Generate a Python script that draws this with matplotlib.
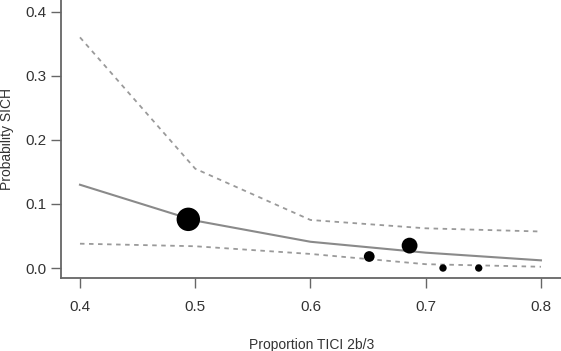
import numpy as np
import matplotlib.pyplot as plt

plt.rcParams['font.family'] = ['Liberation Sans', 'DejaVu Sans']

# fitted curve and confidence band
grid_x = [0.4, 0.5, 0.6, 0.7, 0.8]
fit = [0.130, 0.074, 0.041, 0.024, 0.012]
upper = [0.360, 0.155, 0.075, 0.062, 0.057]
lower = [0.038, 0.034, 0.022, 0.006, 0.002]

# observed trials (size ~ weight)
obs_x = [0.494, 0.651, 0.686, 0.715, 0.746]
obs_y = [0.076, 0.018, 0.035, 0.0, 0.0]
obs_size = [285, 60, 130, 28, 28]

fig = plt.figure(figsize=(5.61, 3.51), dpi=100)
ax = fig.add_axes([0.1093, 0.2088, 0.8907, 0.7912])

ax.plot(grid_x, fit, color='#8a8a8a', lw=1.5)
ax.plot(grid_x, upper, color='#9a9a9a', lw=1.3, linestyle=(0, (2.5, 2.5)))
ax.plot(grid_x, lower, color='#9a9a9a', lw=1.3, linestyle=(0, (2.5, 2.5)))
ax.scatter(obs_x, obs_y, s=obs_size, color='black', linewidths=0, zorder=3)

ax.set_xlim(0.3838, 0.8174)
ax.set_ylim(-0.0151, 0.4183)
ax.set_xticks([0.4, 0.5, 0.6, 0.7, 0.8])
ax.set_yticks([0.0, 0.1, 0.2, 0.3, 0.4])
ax.set_xticklabels(['0.4', '0.5', '0.6', '0.7', '0.8'])
ax.set_yticklabels(['0.0', '0.1', '0.2', '0.3', '0.4'])

for s in ['top', 'right']:
    ax.spines[s].set_visible(False)
for s in ['left', 'bottom']:
    ax.spines[s].set_color('#666666')
    ax.spines[s].set_linewidth(1.3)
ax.tick_params(colors='#666666', width=1.0, length=7, labelsize=11,
               labelcolor='#333333')
ax.tick_params(axis='x', pad=9)
ax.tick_params(axis='y', pad=4)

ax.set_xlabel('Proportion TICI 2b/3', fontsize=10, color='#333333', labelpad=17)
ax.set_ylabel('Probability SICH', fontsize=10, color='#333333', labelpad=8)

fig.savefig('out.png', dpi=100)
